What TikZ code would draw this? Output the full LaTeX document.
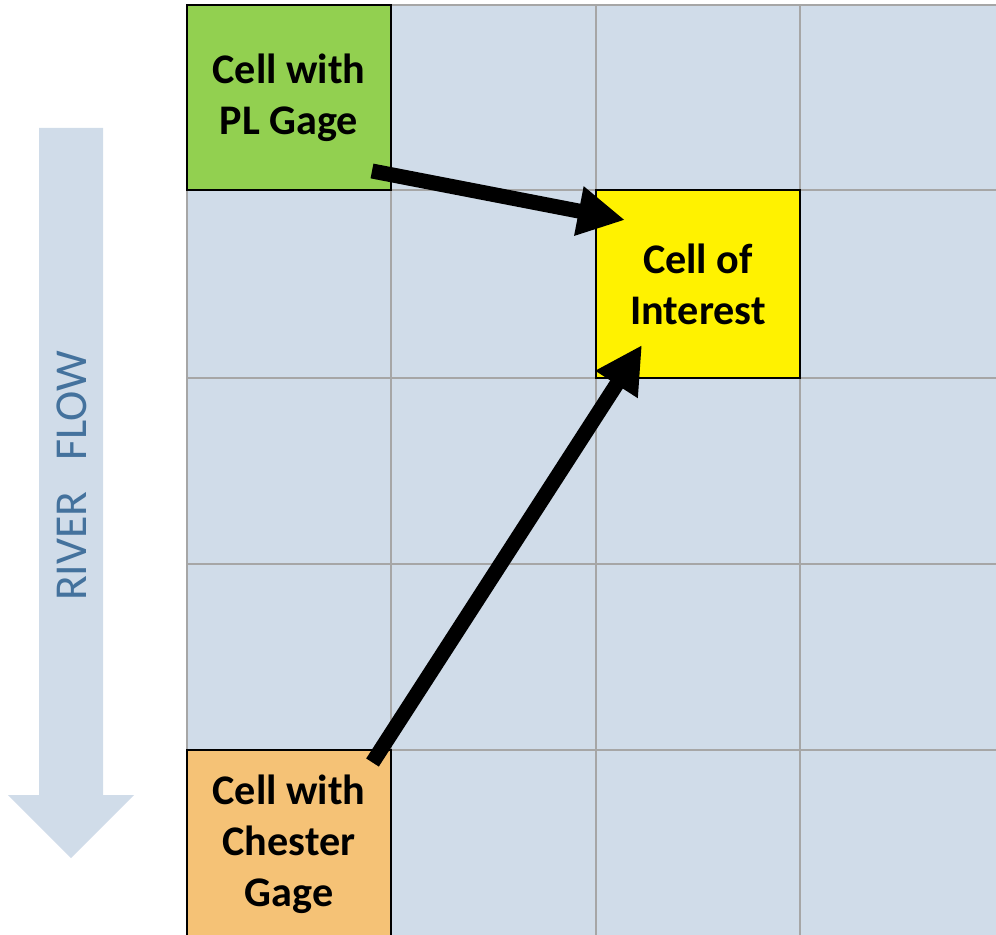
\documentclass[tikz,border=0pt]{standalone}
\usepackage{fontspec}
\setmainfont{Carlito}
\usepackage{xcolor}
\usetikzlibrary{arrows.meta}
\definecolor{gridblue}{HTML}{D0DCE9}
\definecolor{gridgray}{HTML}{A6A6A6}
\definecolor{gagegreen}{HTML}{92D050}
\definecolor{gageorange}{HTML}{F5C276}
\definecolor{flowtext}{HTML}{44729D}

\begin{document}
\begin{tikzpicture}[x=0.02cm,y=-0.02cm]
	 \tikzstyle{cell}=[draw=black,line width=0.05cm,minimum width=4.08cm,inner sep=0pt,align=center,font=\fontsize{24}{29}\selectfont\bfseries,execute at begin node={\vspace*{0.16cm}}]
	 \tikzstyle{grid line}=[gridgray,line width=0.055cm]
	 \tikzstyle{gage arrow}=[draw,black,line width=0.3cm,-{Triangle[length=0.94cm,width=0.94cm]}]
	 \useasboundingbox (0,0) rectangle (996,935);
	 \clip (0,0) rectangle (996,935);
	 % river flow arrow
	 \fill[gridblue] (39,128) -- (103,128) -- (103,795) -- (134,795) -- (71,858) -- (8,795) -- (39,795) -- cycle;
	 \node[rotate=90,text=flowtext,font=\fontsize{26}{30}\selectfont] (flow) at (72,476) {RIVER\hspace{0.45em} FLOW};
	 % grid
	 \fill[gridblue] (187,5) rectangle (1000,940);
	 \foreach \x in {187,391,596,800} \draw[grid line] (\x,5) -- (\x,940);
	 \foreach \y in {5,190,378,564,750} \draw[grid line] (187,\y) -- (1000,\y);
	 % cells
	 \node[cell,fill=gagegreen,minimum height=3.7cm] (pl) at (289,97.5) {Cell with\\PL Gage};
	 \node[cell,fill=yellow,minimum height=3.76cm] (interest) at (698,284) {Cell of\\Interest};
	 \node[cell,fill=gageorange,minimum height=3.76cm] (chester) at (289,844) {Cell with\\Chester\\Gage};
	 % arrows
	 \coordinate (pl tail) at (372,171);
	 \coordinate (pl tip) at (625,220);
	 \coordinate (chester tail) at (372.5,762.5);
	 \coordinate (chester tip) at (642,345);
	 \draw[gage arrow] (pl tail) -- (pl tip);
	 \draw[gage arrow] (chester tail) -- (chester tip);
\end{tikzpicture}
\end{document}
